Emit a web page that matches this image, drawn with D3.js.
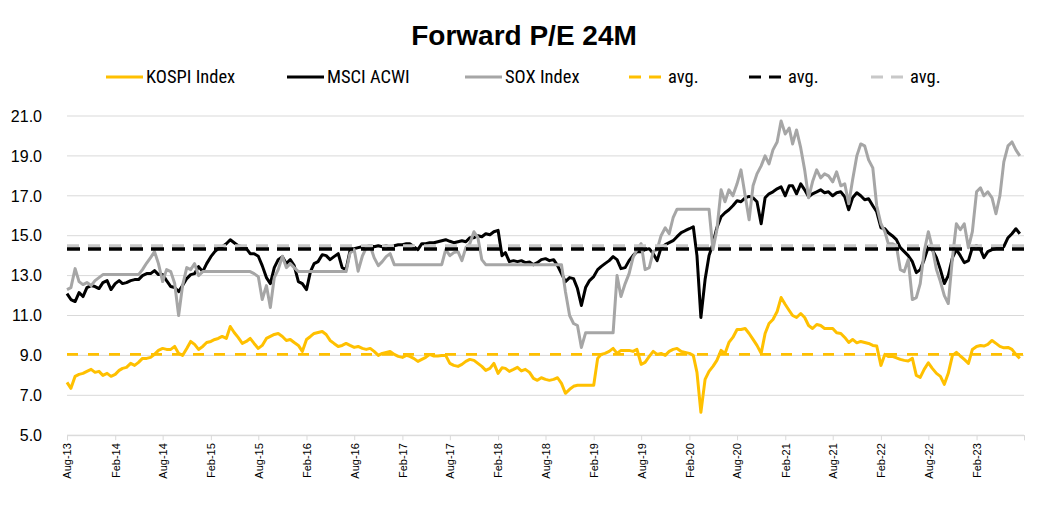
<!DOCTYPE html>
<html><head><meta charset="utf-8">
<script src="https://cdn.jsdelivr.net/npm/d3@7"></script>
<style>body{margin:0;background:#fff} svg{display:block}</style>
</head><body>
<svg id="c" width="1048" height="508"></svg>
<script>
// ---- DATA (half-monthly readings: 1st and 16th of each month, from Aug 2013) ----
const firstPeriod = "2013-08-01";
const kospi = [
7.65,7.35, 7.95,8.05, 8.1,8.2, 8.3,8.15, 8.2,8.0, 8.1,7.95, 8.05,8.25, 8.35,8.4, 8.6,8.5, 8.65,8.85,
8.85,8.9, 9.05,9.25, 9.35,9.3, 9.3,9.45, 9.1,9.0, 9.35,9.7, 9.55,9.3, 9.45,9.65, 9.7,9.8, 9.85,9.95,
9.85,10.45, 10.15,9.9, 9.6,9.7, 9.85,9.6, 9.35,9.5, 9.85,9.95, 10.05,10.1, 9.95,9.75, 9.8,9.65, 9.5,9.2,
9.8,9.95, 10.1,10.15, 10.2,10.05, 9.75,9.6, 9.45,9.5, 9.6,9.5, 9.4,9.45, 9.35,9.3, 9.35,9.2, 9.0,9.1,
9.15,9.2, 9.05,8.95, 8.9,9.0, 8.95,8.85, 8.7,8.8, 8.9,9.05, 8.97,8.97, 9.0,9.0, 8.6,8.5, 8.45,8.55,
8.7,8.8, 8.75,8.6, 8.45,8.25, 8.35,8.6, 8.1,8.38, 8.35,8.2, 8.3,8.4, 8.22,8.3, 8.15,7.85, 7.75,7.88,
7.8,7.75, 7.8,7.88, 7.6,7.1, 7.3,7.45, 7.5,7.5, 7.5,7.5, 7.5,8.85, 9.05,9.1, 9.2,9.35, 9.1,9.25,
9.25,9.25, 9.2,9.3, 8.55,8.65, 8.95,9.2, 9.05,9.1, 9.0,9.2, 9.3,9.35, 9.2,9.15, 9.1,9.0, 8.15,6.15,
7.8,8.2, 8.45,8.75, 9.25,9.1, 9.65,9.9, 10.3,10.3, 10.35,10.1, 9.8,9.5, 9.1,10.1, 10.6,10.8, 11.2,11.9,
11.55,11.25, 11.0,10.9, 11.1,10.9, 10.5,10.35, 10.55,10.5, 10.35,10.35, 10.35,10.13, 10.1,9.9, 9.65,9.8, 9.63,9.7,
9.65,9.6, 9.5,9.47, 8.5,9.05, 8.95,8.95, 8.88,8.8, 8.75,8.72, 8.85,8.0, 7.9,8.3, 8.63,8.35, 8.1,7.95,
7.55,8.1, 9.0,9.15, 8.97,8.8, 8.6,9.3, 9.45,9.5, 9.47,9.55, 9.75,9.6, 9.45,9.38, 9.4,9.3, 9.05,8.85
];
const acwi = [
12.1,11.8, 11.7,12.15, 11.95,12.4, 12.5,12.45, 12.35,12.65, 12.75,12.3, 12.6,12.75, 12.6,12.65, 12.75,12.8, 12.8,13.0,
13.1,13.1, 13.25,13.05, 13.05,12.75, 12.45,12.4, 12.2,12.5, 12.85,13.05, 13.1,13.45, 13.2,13.6, 13.95,14.2, 14.35,14.45,
14.6,14.8, 14.65,14.5, 14.45,14.37, 14.1,14.1, 13.97,13.5, 12.9,12.6, 13.4,13.8, 13.95,13.6, 13.8,13.5, 12.7,12.6,
12.3,13.2, 13.6,13.7, 14.05,14.0, 13.8,13.95, 14.1,13.4, 13.3,14.25, 14.35,14.4, 14.45,14.45, 14.5,14.45, 14.5,14.45,
14.5,14.4, 14.5,14.55, 14.55,14.6, 14.6,14.45, 14.3,14.6, 14.6,14.65, 14.65,14.7, 14.75,14.8, 14.72,14.65, 14.7,14.75,
14.7,14.9, 14.9,15.0, 14.95,15.1, 15.05,15.2, 15.27,14.0, 14.15,13.7, 13.75,13.7, 13.75,13.65, 13.68,13.55, 13.65,13.8,
13.85,13.75, 13.8,13.5, 13.1,12.7, 12.9,12.85, 12.35,11.5, 12.4,12.75, 12.95,13.3, 13.45,13.6, 13.75,13.95, 13.8,13.35,
13.4,13.75, 14.0,14.2, 14.2,14.3, 14.35,14.1, 13.75,14.4, 14.55,14.65, 14.75,14.95, 15.15,15.25, 15.35,15.45, 14.0,10.9,
12.8,14.0, 14.6,15.4, 15.95,16.15, 16.3,16.5, 16.75,16.7, 16.9,16.97, 16.9,16.7, 15.6,16.9, 17.1,17.2, 17.35,17.45,
17.0,17.5, 17.5,17.1, 17.6,17.3, 16.95,17.1, 17.2,17.3, 17.15,17.2, 17.0,17.15, 17.2,16.95, 16.3,16.9, 17.15,17.0,
16.8,16.85, 16.5,16.2, 15.4,15.35, 15.15,15.0, 14.8,14.4, 14.2,14.0, 13.7,13.15, 13.3,13.8, 14.45,14.3, 13.9,13.3,
12.6,13.0, 13.9,14.3, 14.0,13.65, 13.75,14.4, 14.5,14.3, 13.9,14.2, 14.3,14.35, 14.4,14.45, 14.9,15.1, 15.35,15.1
];
const sox = [
12.3,12.4, 13.35,12.7, 12.55,12.65, 12.5,12.75, 12.9,13.05, 13.05,13.05, 13.05,13.05, 13.05,13.05, 13.05,13.05, 13.05,13.3,
13.63,13.9, 14.2,13.6, 12.7,13.3, 13.2,12.6, 11.0,12.5, 13.4,13.3, 13.6,13.0, 13.2,13.2, 13.2,13.2, 13.2,13.2,
13.2,13.2, 13.2,13.2, 13.2,13.2, 13.2,13.1, 12.95,11.8, 12.5,11.4, 12.9,13.3, 13.97,13.4, 13.6,13.4, 13.2,13.2,
13.2,13.2, 13.2,13.2, 13.2,13.2, 13.2,13.2, 13.2,13.2, 13.2,14.13, 14.3,13.22, 13.97,14.4, 14.5,13.9, 13.5,13.7,
13.95,14.1, 13.55,13.55, 13.55,13.55, 13.55,13.55, 13.55,13.55, 13.55,13.55, 13.55,13.55, 13.55,14.3, 14.0,14.15, 14.2,13.75,
14.4,14.6, 15.2,14.9, 13.8,13.55, 13.55,13.55, 13.55,13.55, 13.55,13.55, 13.55,13.55, 13.55,13.55, 13.55,13.55, 13.55,13.55,
13.55,13.55, 13.55,13.55, 13.55,12.2, 11.0,10.6, 10.5,9.4, 10.13,10.13, 10.13,10.13, 10.13,10.13, 10.13,10.13, 13.0,11.95,
12.6,13.1, 13.9,14.3, 14.6,13.3, 13.4,14.2, 14.3,15.0, 15.4,15.1, 15.9,16.33, 16.33,16.33, 16.33,16.33, 16.33,16.33,
16.33,16.33, 14.3,15.3, 17.3,16.7, 17.3,17.0, 17.6,18.3, 17.0,15.8, 17.5,18.1, 18.5,19.0, 18.6,19.3, 19.7,20.75,
20.1,20.4, 19.6,20.3, 19.4,18.3, 16.9,17.7, 18.3,17.9, 18.1,18.0, 17.7,18.2, 17.5,17.6, 16.6,17.8, 19.0,19.6,
19.5,18.8, 18.4,16.5, 15.6,15.2, 14.6,14.6, 14.5,13.3, 13.2,13.8, 11.8,11.9, 12.6,14.2, 15.2,14.4, 13.3,12.7,
12.0,11.6, 13.9,15.6, 15.3,15.6, 14.4,15.2, 17.2,17.4, 17.0,17.2, 16.9,16.1, 17.0,18.7, 19.5,19.7, 19.3,19.0
];
const kospiAvg = 9.05;
const acwiAvg = 14.33;
const soxAvg = 14.5;
const yTickValues = [5, 7, 9, 11, 13, 15, 17, 19, 21];
const xTickLabels = ["Aug-13","Feb-14","Aug-14","Feb-15","Aug-15","Feb-16","Aug-16","Feb-17","Aug-17","Feb-18",
  "Aug-18","Feb-19","Aug-19","Feb-20","Aug-20","Feb-21","Aug-21","Feb-22","Aug-22","Feb-23"];
const axisEnd = "2023-08-01";
const legendLabels = ["KOSPI Index","MSCI ACWI","SOX Index","avg.","avg.","avg."];

// ---- CHART ----
const svg = d3.select("#c");
const m = {left: 67, right: 1024, top: 116, bottom: 435.2};
const start = d3.timeParse("%Y-%m-%d")(firstPeriod);
const dates = kospi.map((_, i) => {
  const mo = d3.timeMonth.offset(start, Math.floor(i / 2));
  return i % 2 ? d3.timeDay.offset(mo, 15) : mo;
});
const x = d3.scaleTime().domain([start, d3.timeParse("%Y-%m-%d")(axisEnd)]).range([m.left, m.right]);
const y = d3.scaleLinear().domain([5, 21]).range([m.bottom, m.top]);

const colKospi = "#FFC000", colAcwi = "#000000", colSox = "#A6A6A6", colSoxAvg = "#C8C8C8";

// title
svg.append("text").attr("x", 524).attr("y", 45).attr("text-anchor", "middle")
  .attr("font-family", "Liberation Sans, Arial, sans-serif").attr("font-weight", "bold")
  .attr("font-size", 28).attr("fill", "#000").text("Forward P/E 24M");

// gridlines
svg.append("g").selectAll("line").data(yTickValues).join("line")
  .attr("x1", m.left).attr("x2", m.right)
  .attr("y1", d => y(d)).attr("y2", d => y(d))
  .attr("stroke", "#d9d9d9").attr("stroke-width", 1);

// y labels
svg.append("g").selectAll("text").data(yTickValues).join("text")
  .attr("x", 42).attr("y", d => y(d)).attr("dy", "0.36em").attr("text-anchor", "end")
  .attr("font-family", "Liberation Sans, Arial, sans-serif").attr("font-size", 16).attr("fill", "#000")
  .text(d => d3.format(".1f")(d));

// x axis
const parseTick = d3.timeParse("%b-%y");
const tickDates = xTickLabels.map(parseTick);
const xAxis = d3.axisBottom(x).tickValues(tickDates.concat([x.domain()[1]]))
  .tickSize(5).tickFormat((d, i) => i < xTickLabels.length ? xTickLabels[i] : "");
const gx = svg.append("g").attr("transform", `translate(0,${m.bottom})`).call(xAxis);
gx.select(".domain").attr("stroke", "#d9d9d9");
gx.selectAll(".tick line").attr("stroke", "#d9d9d9");
gx.selectAll(".tick text")
  .attr("font-family", "Liberation Sans, Arial, sans-serif").attr("font-size", 11).attr("fill", "#000")
  .attr("transform", "rotate(-90)").attr("text-anchor", "end")
  .attr("x", -8).attr("y", 0).attr("dy", "0.35em");

// series
const line = d3.line().x((d, i) => x(dates[i])).y(d => y(d)).curve(d3.curveLinear);
const series = [
  {v: kospi, c: colKospi},
  {v: acwi, c: colAcwi},
  {v: sox, c: colSox}
];
svg.append("g").selectAll("path").data(series).join("path")
  .attr("d", d => line(d.v)).attr("fill", "none").attr("stroke", d => d.c)
  .attr("stroke-width", 3).attr("stroke-linejoin", "round");

// averages
const avgs = [
  {v: soxAvg, c: colSoxAvg, w: 3, dash: "12,9"},
  {v: kospiAvg, c: colKospi, w: 2.6, dash: "11,10"},
  {v: acwiAvg, c: colAcwi, w: 3.5, dash: "13,8"}
];
svg.append("g").selectAll("line").data(avgs).join("line")
  .attr("x1", m.left).attr("x2", m.right)
  .attr("y1", d => y(d.v)).attr("y2", d => y(d.v))
  .attr("stroke", d => d.c).attr("stroke-width", d => d.w).attr("stroke-dasharray", d => d.dash);

// legend
const legendItems = [
  {c: colKospi, dashed: false, x0: 106},
  {c: colAcwi, dashed: false, x0: 287},
  {c: colSox, dashed: false, x0: 465},
  {c: colKospi, dashed: true, x0: 629},
  {c: colAcwi, dashed: true, x0: 749},
  {c: colSoxAvg, dashed: true, x0: 871}
];
const ly = 77;
const lg = svg.append("g");
legendItems.forEach((it, i) => {
  lg.append("line").attr("x1", it.x0).attr("x2", it.x0 + (it.dashed ? 32 : 37))
    .attr("y1", ly).attr("y2", ly).attr("stroke", it.c).attr("stroke-width", 3)
    .attr("stroke-dasharray", it.dashed ? "12,8" : null);
  lg.append("text").attr("x", it.x0 + (it.dashed ? 39 : 40)).attr("y", ly).attr("dy", "0.35em")
    .attr("font-family", "Liberation Sans Narrow, Roboto Condensed, Roboto, sans-serif")
    .attr("font-size", 18.5).attr("fill", "#000").text(legendLabels[i]);
});
</script>
</body></html>
